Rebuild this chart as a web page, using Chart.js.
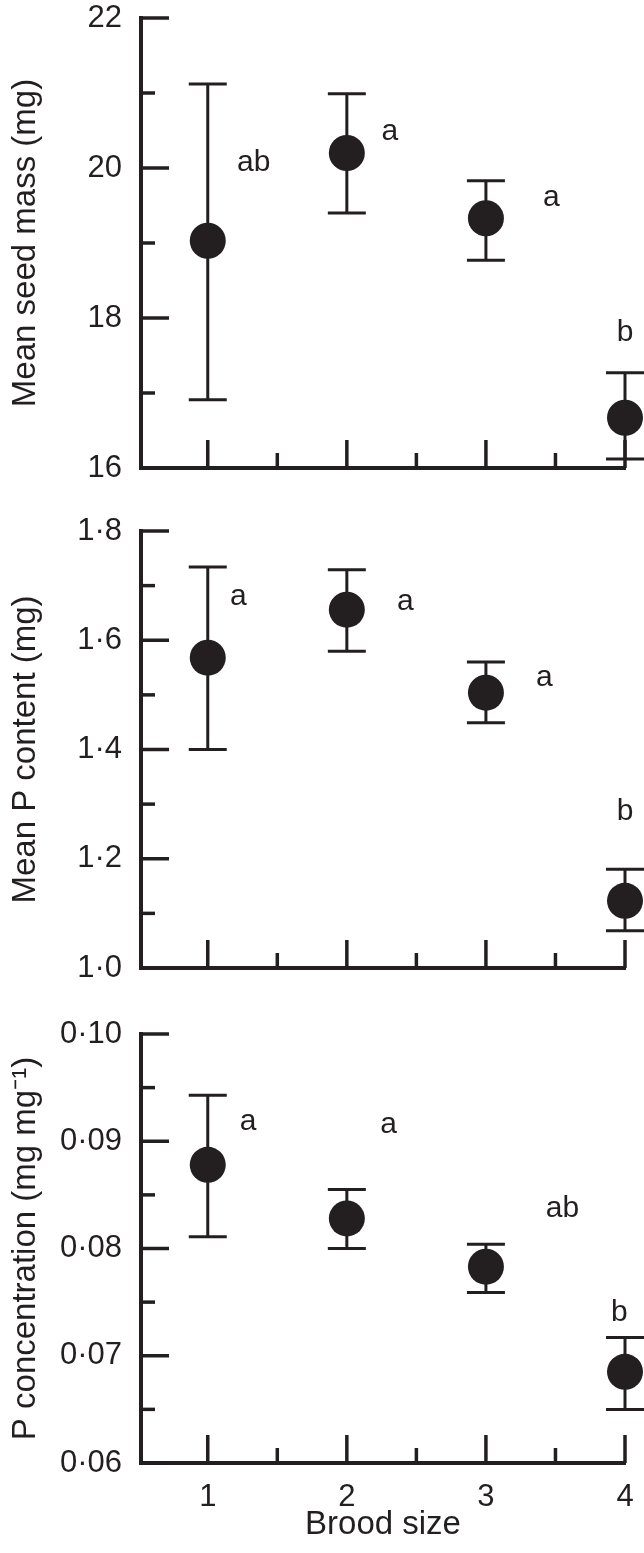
<!DOCTYPE html>
<html>
<head>
<meta charset="utf-8">
<script src="https://cdn.jsdelivr.net/npm/chart.js@4.4.1/dist/chart.umd.min.js"></script>
<style>
  html, body { margin: 0; padding: 0; background: #ffffff; }
  #wrap { position: relative; width: 644px; height: 1553px; overflow: hidden; }
  canvas { position: absolute; left: 0; }
</style>
</head>
<body>
<div id="wrap">
  <canvas id="c1" width="644" height="500" style="top:0px"></canvas>
  <canvas id="c2" width="644" height="510" style="top:500px"></canvas>
  <canvas id="c3" width="644" height="543" style="top:1010px"></canvas>
</div>
<script>
// ---------- DATA ----------
const broodSize = [1, 2, 3, 4];
const xTicks = [1, 1.5, 2, 2.5, 3, 3.5, 4];
const xTickLabels = ['1', '', '2', '', '3', '', '4'];

// Panel 1: mean seed mass (mg)
const seedMass      = [19.03, 20.20, 19.33, 16.67];
const seedMassLow   = [16.91, 19.40, 18.77, 16.12];
const seedMassHigh  = [21.12, 20.99, 19.83, 17.27];
const seedMassGroups = ['ab', 'a', 'a', 'b'];
const seedMassGroupX = [1.33, 2.31, 3.47, 4.00];
const seedMassGroupY = [20.07, 20.49, 19.60, 17.80];
const seedMassTicks = [16, 17, 18, 19, 20, 21, 22];
const seedMassTickLabels = ['16', '', '18', '', '20', '', '22'];

// Panel 2: mean P content (mg)
const pContent      = [1.568, 1.656, 1.504, 1.123];
const pContentLow   = [1.400, 1.580, 1.449, 1.068];
const pContentHigh  = [1.734, 1.729, 1.560, 1.181];
const pContentGroups = ['a', 'a', 'a', 'b'];
const pContentGroupX = [1.22, 2.42, 3.42, 4.00];
const pContentGroupY = [1.679, 1.670, 1.531, 1.286];
const pContentTicks = [1.0, 1.1, 1.2, 1.3, 1.4, 1.5, 1.6, 1.7, 1.8];
const pContentTickLabels = ['1·0', '', '1·2', '', '1·4', '', '1·6', '', '1·8'];

// Panel 3: P concentration (mg mg-1)
const pConc      = [0.0878, 0.0828, 0.0783, 0.0685];
const pConcLow   = [0.0811, 0.0800, 0.0759, 0.0650];
const pConcHigh  = [0.0943, 0.0855, 0.0804, 0.0717];
const pConcGroups = ['a', 'a', 'ab', 'b'];
const pConcGroupX = [1.29, 2.30, 3.55, 3.96];
const pConcGroupY = [0.0918, 0.0915, 0.0837, 0.0740];
const pConcTicks = [0.060, 0.065, 0.070, 0.075, 0.080, 0.085, 0.090, 0.095, 0.100];
const pConcTickLabels = ['0·06', '', '0·07', '', '0·08', '', '0·09', '', '0·10'];

// ---------- STYLE ----------
const INK = '#231f20';
const FONT = "'Liberation Sans', Arial, Helvetica, sans-serif";

const errorBarPlugin = {
  id: 'errorBars',
  beforeDatasetsDraw(chart, args, opts) {
    const {ctx} = chart;
    const xs = chart.scales.x, ys = chart.scales.y;
    ctx.save();
    ctx.strokeStyle = INK;
    ctx.lineWidth = 3;
    ctx.lineCap = 'butt';
    opts.x.forEach((xv, i) => {
      const px = xs.getPixelForValue(xv);
      const pl = ys.getPixelForValue(opts.low[i]);
      const ph = ys.getPixelForValue(opts.high[i]);
      ctx.beginPath();
      ctx.moveTo(px, pl); ctx.lineTo(px, ph);
      ctx.moveTo(px - 19, pl); ctx.lineTo(px + 19, pl);
      ctx.moveTo(px - 19, ph); ctx.lineTo(px + 19, ph);
      ctx.stroke();
    });
    ctx.restore();
  }
};

const innerTicksPlugin = {
  id: 'innerTicks',
  afterDraw(chart) {
    const {ctx, chartArea} = chart;
    const xs = chart.scales.x, ys = chart.scales.y;
    ctx.save();
    ctx.strokeStyle = INK;
    ctx.lineWidth = 3.5;
    ys.ticks.forEach(t => {
      const py = ys.getPixelForValue(t.value);
      const len = t.label ? 28 : 14;
      ctx.beginPath();
      ctx.moveTo(chartArea.left, py); ctx.lineTo(chartArea.left + len, py);
      ctx.stroke();
    });
    xs.ticks.forEach(t => {
      const px = xs.getPixelForValue(t.value);
      const len = Number.isInteger(t.value) ? 28 : 15;
      ctx.beginPath();
      ctx.moveTo(px, chartArea.bottom); ctx.lineTo(px, chartArea.bottom - len);
      ctx.stroke();
    });
    ctx.restore();
  }
};

const groupLabelPlugin = {
  id: 'groupLabels',
  afterDatasetsDraw(chart, args, opts) {
    const {ctx} = chart;
    const xs = chart.scales.x, ys = chart.scales.y;
    ctx.save();
    ctx.fillStyle = INK;
    ctx.font = '30px ' + FONT;
    ctx.textAlign = 'center';
    ctx.textBaseline = 'middle';
    opts.text.forEach((s, i) => {
      ctx.fillText(s, xs.getPixelForValue(opts.x[i]), ys.getPixelForValue(opts.y[i]));
    });
    ctx.restore();
  }
};

function noScalePadding(s) {
  s.paddingTop = 0; s.paddingBottom = 0; s.paddingLeft = 0; s.paddingRight = 0;
}

function makePanel(id, p) {
  const ctx = document.getElementById(id);
  return new Chart(ctx, {
    type: 'scatter',
    data: {
      datasets: [{
        data: broodSize.map((x, i) => ({x: x, y: p.values[i]})),
        backgroundColor: INK,
        borderWidth: 0,
        pointRadius: 18,
        pointHoverRadius: 18,
        clip: false
      }]
    },
    options: {
      responsive: false,
      animation: false,
      events: [],
      devicePixelRatio: 1,
      layout: { padding: { top: p.padTop, right: 19, left: 0, bottom: 0 } },
      plugins: {
        legend: { display: false },
        tooltip: { enabled: false },
        errorBars: { x: broodSize, low: p.low, high: p.high },
        groupLabels: { text: p.groups, x: p.gx, y: p.gy }
      },
      scales: {
        x: {
          type: 'linear',
          min: 0.52, max: 4,
          afterBuildTicks: s => { s.ticks = xTicks.map(v => ({value: v})); },
          afterFit: s => { s.height = p.xHeight; noScalePadding(s); },
          grid: { display: false, drawTicks: false },
          border: { display: true, color: INK, width: 4 },
          ticks: {
            display: p.showX,
            autoSkip: false,
            maxRotation: 0,
            padding: 16,
            color: INK,
            font: { family: FONT, size: 31 },
            callback: (v, i) => xTickLabels[i]
          },
          title: {
            display: p.showX,
            text: 'Brood size',
            color: INK,
            font: { family: FONT, size: 33 },
            padding: { top: 0, bottom: 8 }
          }
        },
        y: {
          type: 'linear',
          min: p.ticks[0], max: p.ticks[p.ticks.length - 1],
          afterBuildTicks: s => { s.ticks = p.ticks.map(v => ({value: v})); },
          afterFit: s => { s.width = 141; noScalePadding(s); },
          grid: { display: false, drawTicks: false },
          border: { display: true, color: INK, width: 4 },
          ticks: {
            autoSkip: false,
            padding: 19,
            color: INK,
            font: { family: FONT, size: 31 },
            callback: (v, i) => p.tickLabels[i]
          },
          title: {
            display: true,
            text: p.title,
            color: INK,
            font: { family: FONT, size: 33 },
            padding: { top: 6, bottom: 0 }
          }
        }
      }
    },
    plugins: [errorBarPlugin, innerTicksPlugin, groupLabelPlugin]
  });
}

makePanel('c1', {
  values: seedMass, low: seedMassLow, high: seedMassHigh,
  groups: seedMassGroups, gx: seedMassGroupX, gy: seedMassGroupY,
  ticks: seedMassTicks, tickLabels: seedMassTickLabels,
  title: 'Mean seed mass (mg)', padTop: 18, xHeight: 32, showX: false
});
makePanel('c2', {
  values: pContent, low: pContentLow, high: pContentHigh,
  groups: pContentGroups, gx: pContentGroupX, gy: pContentGroupY,
  ticks: pContentTicks, tickLabels: pContentTickLabels,
  title: 'Mean P content (mg)', padTop: 31, xHeight: 42, showX: false
});
makePanel('c3', {
  values: pConc, low: pConcLow, high: pConcHigh,
  groups: pConcGroups, gx: pConcGroupX, gy: pConcGroupY,
  ticks: pConcTicks, tickLabels: pConcTickLabels,
  title: 'P concentration (mg mg\u207B\u00B9)', padTop: 24, xHeight: 90, showX: true
});
</script>
</body>
</html>
